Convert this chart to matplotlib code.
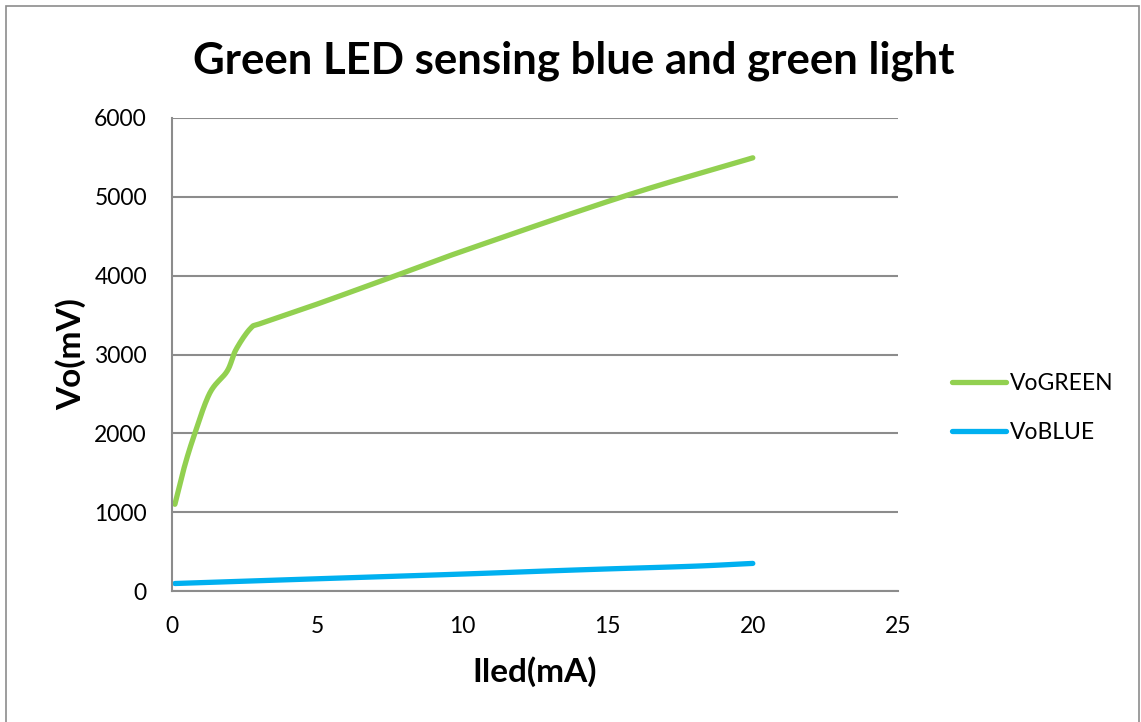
import numpy as np
import matplotlib
matplotlib.use("Agg")
import matplotlib.pyplot as plt
from matplotlib.patches import Rectangle

# values
green_x = [0.1, 0.4, 0.75, 1.3, 1.9, 2.2, 2.7, 3.1, 5, 7.7, 10, 15.5, 20]
green_y = [1100, 1540, 1960, 2510, 2790, 3060, 3330, 3400, 3640, 4000, 4310, 5000, 5495]
blue_x = [0.1, 5, 10, 13, 15, 18, 20]
blue_y = [95, 155, 215, 255, 280, 315, 350]
x_ticks = [0, 5, 10, 15, 20, 25]
y_ticks = [0, 1000, 2000, 3000, 4000, 5000, 6000]

plt.rcParams['font.family'] = ['Lato', 'DejaVu Sans']


def smooth(x, y, n=20):
    # catmull-rom style smoothing, like excel's "smoothed line"
    x = np.asarray(x, float)
    y = np.asarray(y, float)
    px = np.concatenate([[2 * x[0] - x[1]], x, [2 * x[-1] - x[-2]]])
    py = np.concatenate([[2 * y[0] - y[1]], y, [2 * y[-1] - y[-2]]])
    xs, ys = [], []
    t = np.linspace(0, 1, n)
    for i in range(1, len(px) - 2):
        p0, p1, p2, p3 = [np.array([px[j], py[j]]) for j in range(i - 1, i + 3)]
        c1 = p1 + (p2 - p0) / 6
        c2 = p2 - (p3 - p1) / 6
        pts = ((1 - t) ** 3)[:, None] * p1 + (3 * (1 - t) ** 2 * t)[:, None] * c1 \
            + (3 * (1 - t) * t ** 2)[:, None] * c2 + (t ** 3)[:, None] * p2
        xs.extend(pts[:, 0])
        ys.extend(pts[:, 1])
    return xs, ys


fig = plt.figure(figsize=(11.41, 7.22), dpi=100)
ax = fig.add_axes([172 / 1141, 131 / 722, 726 / 1141, 473 / 722])

fig.patches.append(Rectangle((6 / 1141, -0.1), 1133 / 1141, 1.1 - 6 / 722,
                             transform=fig.transFigure, fill=False,
                             edgecolor='#8c8c8c', linewidth=1.2))

gx, gy = smooth(green_x, green_y)
bx, by = smooth(blue_x, blue_y)
ax.plot(gx, gy, color='#92D050', linewidth=3.8, solid_capstyle='round', label='VoGREEN')
ax.plot(bx, by, color='#00B0F0', linewidth=3.8, solid_capstyle='round', label='VoBLUE')

ax.set_xlim(0, 25)
ax.set_ylim(0, 6000)
ax.set_xticks(x_ticks)
ax.set_yticks(y_ticks)
ax.tick_params(length=0, labelsize=16.5, pad=18)
ax.grid(axis='y', color='#8c8c8c', linewidth=1.5)
ax.set_axisbelow(True)
for side in ['top', 'right']:
    ax.spines[side].set_visible(False)
for side in ['left', 'bottom']:
    ax.spines[side].set_color('#8c8c8c')
    ax.spines[side].set_linewidth(1.5)

# title sits centred on the whole chart, not on the plot area
ax.set_title('Green LED sensing blue and green light', fontsize=31.5, fontweight='bold',
             pad=32, x=(574 - 172) / 726)
ax.set_xlabel('Iled(mA)', fontsize=24, fontweight='bold', labelpad=14)
ax.set_ylabel('Vo(mV)', fontsize=24, fontweight='bold', labelpad=6)

fig.legend(loc='center left', bbox_to_anchor=(952 / 1141, (722 - 408) / 722),
           frameon=False, fontsize=16.5, handlelength=2.36, handletextpad=0.18,
           labelspacing=1.2, borderpad=0, borderaxespad=0)

fig.savefig('out.png', dpi=100)
